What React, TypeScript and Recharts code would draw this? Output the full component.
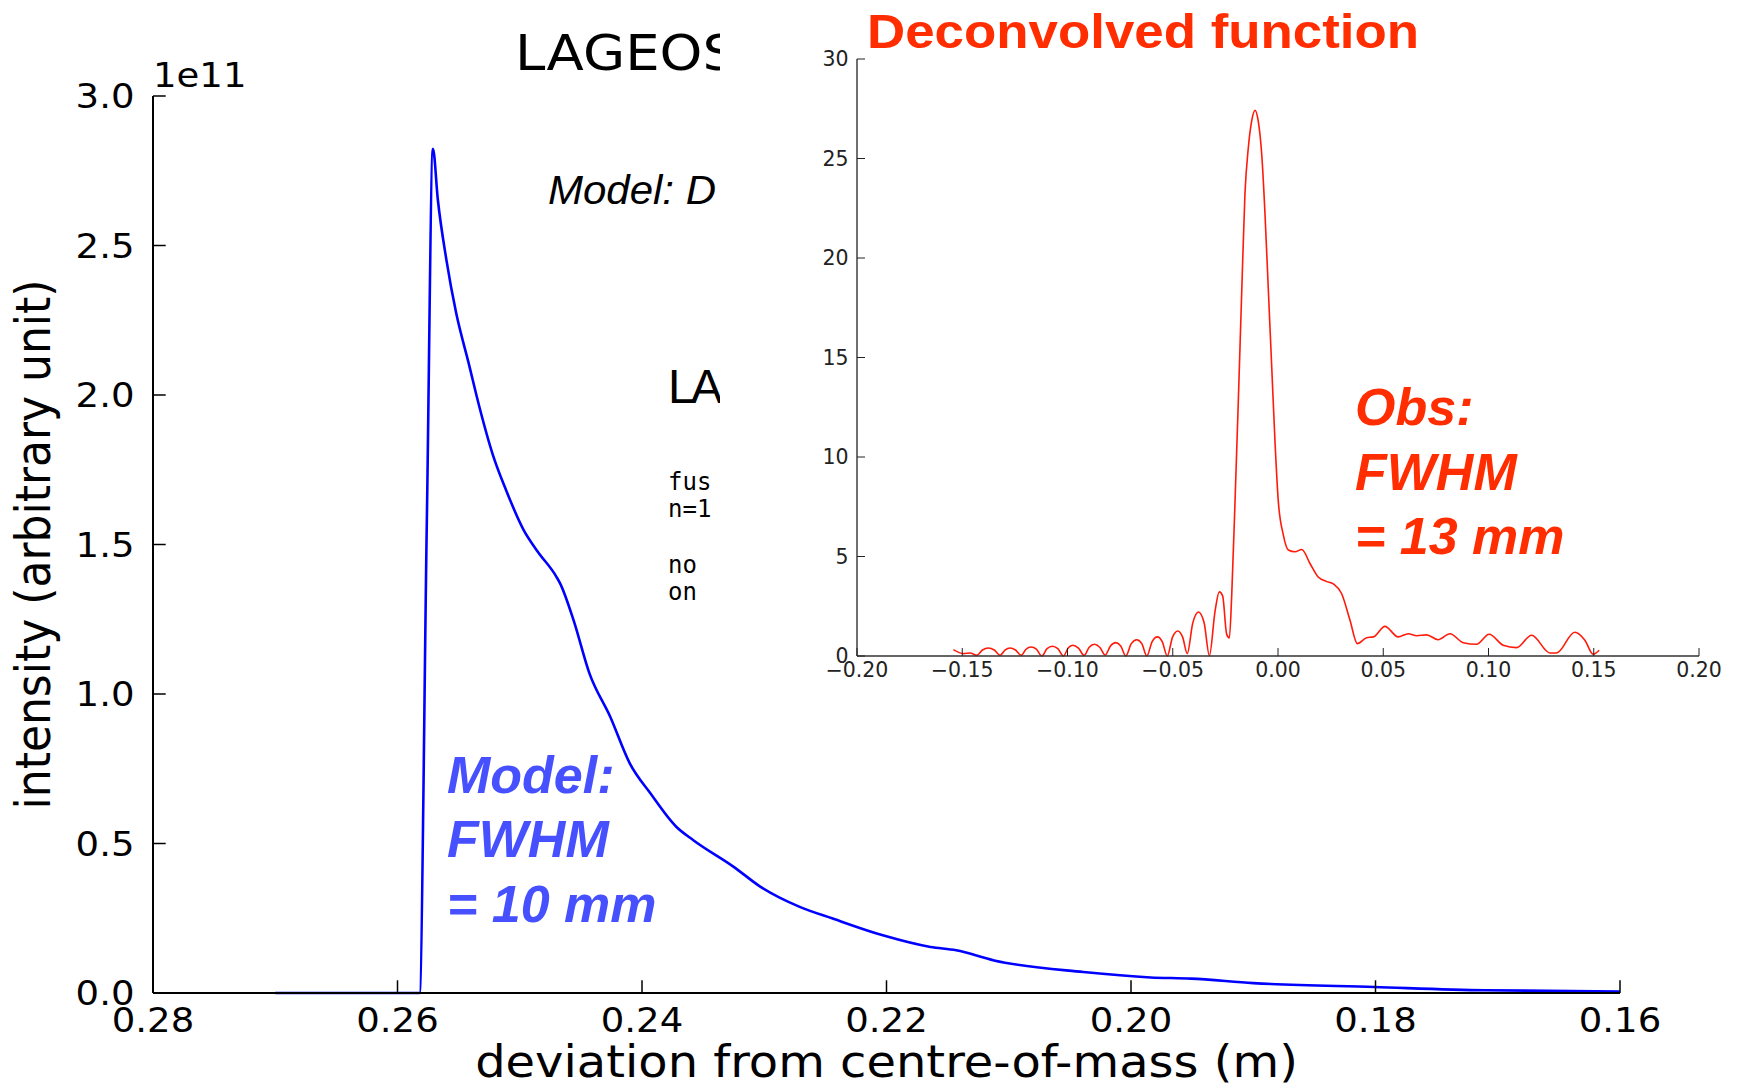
import { LineChart, Line, XAxis, YAxis } from "recharts";

// main panel: model return-pulse (blue)
const MAIN_X = [
  0.27, 0.2582, 0.2576, 0.2571, 0.2567, 0.256, 0.2552, 0.2542, 0.2533, 0.2522, 0.2511,
  0.2497, 0.2486, 0.247, 0.2467, 0.2456, 0.2443, 0.2426, 0.241, 0.2393, 0.2372, 0.2358,
  0.2325, 0.2303, 0.2271, 0.2244, 0.2203, 0.2164, 0.2143, 0.2112, 0.2039, 0.1984, 0.1951,
  0.19, 0.1801, 0.171, 0.16,
];
const MAIN_I = [
  0, 0, 1.58e11, 2.823e11, 2.653e11, 2.452e11, 2.274e11, 2.11e11, 1.96e11, 1.8e11, 1.68e11,
  1.55e11, 1.48e11, 1.392e11, 1.37e11, 1.247e11, 1.069e11, 0.924e11, 0.768e11, 0.667e11,
  0.556e11, 0.511e11, 0.422e11, 0.355e11, 0.288e11, 0.249e11, 0.193e11, 0.154e11, 0.143e11,
  0.109e11, 0.07e11, 0.052e11, 0.048e11, 0.033e11, 0.02e11, 0.009e11, 0.005e11,
];
const MAIN_X_TICKS = [0.28, 0.26, 0.24, 0.22, 0.2, 0.18, 0.16];
const MAIN_Y_TICKS = [0, 0.5e11, 1e11, 1.5e11, 2e11, 2.5e11, 3e11];

// inset: deconvolved function (red)
const INSET_X = [
  -0.1542, -0.1494, -0.1462, -0.1431, -0.1404, -0.1376, -0.1348, -0.132, -0.1297, -0.1273,
  -0.1247, -0.122, -0.1197, -0.1173, -0.1148, -0.1122, -0.1097, -0.1072, -0.1046, -0.1019,
  -0.0997, -0.0975, -0.0948, -0.0921, -0.0897, -0.0872, -0.0847, -0.0821, -0.0796, -0.0771,
  -0.0747, -0.0723, -0.0697, -0.0671, -0.0647, -0.0623, -0.0598, -0.0573, -0.055, -0.0526,
  -0.0501, -0.0476, -0.0453, -0.0431, -0.0405, -0.0378, -0.0351, -0.0326, -0.0299, -0.0279,
  -0.0263, -0.0244, -0.0231, -0.022, -0.0204, -0.0189, -0.0172, -0.0157, -0.0141, -0.0125,
  -0.0109, -0.0094, -0.0077, -0.0062, -0.0046, -0.003, -0.0014, 0.0001, 0.0025, 0.0049,
  0.0081, 0.0113, 0.0152, 0.0191, 0.023, 0.0263, 0.0302, 0.0342, 0.0377, 0.0421, 0.0453,
  0.0508, 0.0571, 0.0619, 0.0659, 0.0706, 0.0761, 0.0817, 0.088, 0.0943, 0.1003, 0.107,
  0.1133, 0.1205, 0.1292, 0.1323, 0.141, 0.1458, 0.1497, 0.1526,
];
const INSET_Y = [
  0.32, 0.12, 0.15, 0.03, 0.3, 0.4, 0.3, 0.03, 0.3, 0.4,
  0.3, 0.03, 0.34, 0.45, 0.34, 0.0, 0.37, 0.49, 0.37, 0.0,
  0.4, 0.54, 0.4, 0.03, 0.44, 0.59, 0.44, 0.05, 0.5, 0.67,
  0.5, 0.0, 0.62, 0.82, 0.62, 0.0, 0.72, 0.96, 0.72, 0.0,
  0.95, 1.26, 0.95, 0.12, 1.65, 2.21, 1.67, 0.02, 2.25, 3.22,
  3.02, 1.1, 0.91, 3.02, 7.83, 12.65, 18.42, 23.23, 25.54, 26.89,
  27.42, 26.89, 25.16, 22.27, 18.42, 14.57, 10.72, 7.83, 6.1, 5.33,
  5.24, 5.35, 4.65, 3.97, 3.75, 3.62, 3.14, 1.8, 0.62, 0.92, 0.96,
  1.49, 0.96, 1.12, 1.02, 1.06, 0.82, 1.12, 0.67, 0.59, 1.09, 0.54,
  0.42, 1.04, 0.15, 0.15, 1.19, 0.79, 0.09, 0.29,
];
const INSET_X_TICKS = [-0.2, -0.15, -0.1, -0.05, 0, 0.05, 0.1, 0.15, 0.2];
const INSET_Y_TICKS = [0, 5, 10, 15, 20, 25, 30];

const mainData = MAIN_X.map((x, i) => ({ x, y: MAIN_I[i] }));
const insetData = INSET_X.map((x, i) => ({ x, y: INSET_Y[i] }));

const MPL = "DejaVu Sans";
const ARIAL = "Liberation Sans, Arial, sans-serif";
const STRETCH = 1.09; // the pasted matplotlib figure is a little wider than tall

const fmtMain = (v: number) => (v / 1e11).toFixed(1);
const fmtX = (v: number) => v.toFixed(2);
const fmtInsetX = (v: number) =>
  v < -1e-9 ? "\u2212" + Math.abs(v).toFixed(2) : Math.abs(v).toFixed(2);
const fmtInt = (v: number) => String(v);

// ticks point inward (matplotlib classic); labels sit outside
function bottomTick(len: number, gap: number, size: number, fmt: (v: number) => string, sx: number, w: number, color: string) {
  return (p: any) => {
    const { x, y, payload } = p;
    return (
      <g>
        <line x1={x} x2={x} y1={y} y2={y - len} stroke={color} strokeWidth={w} />
        <text
          transform={`translate(${x},${y + gap}) scale(${sx},1)`}
          textAnchor="middle"
          fontFamily={MPL}
          fontSize={size}
          fill={color}
        >
          {fmt(payload.value)}
        </text>
      </g>
    );
  };
}

function leftTick(len: number, gap: number, size: number, fmt: (v: number) => string, sx: number, w: number, color: string) {
  return (p: any) => {
    const { x, y, payload } = p;
    return (
      <g>
        <line x1={x} x2={x + len} y1={y} y2={y} stroke={color} strokeWidth={w} />
        <text
          transform={`translate(${x - gap},${y + size * 0.365}) scale(${sx},1)`}
          textAnchor="end"
          fontFamily={MPL}
          fontSize={size}
          fill={color}
        >
          {fmt(payload.value)}
        </text>
      </g>
    );
  };
}

function topTick(len: number, w: number, color: string) {
  return (p: any) => <line x1={p.x} x2={p.x} y1={p.y} y2={p.y + len} stroke={color} strokeWidth={w} />;
}

function rightTick(len: number, w: number, color: string) {
  return (p: any) => <line x1={p.x} x2={p.x - len} y1={p.y} y2={p.y} stroke={color} strokeWidth={w} />;
}

function MainChart() {
  const axis = { stroke: "#000", strokeWidth: 2 };
  return (
    <LineChart width={1737} height={1089} data={mainData} margin={{ top: 96, right: 117, bottom: 0, left: 0 }}>
      <XAxis
        xAxisId="b"
        type="number"
        dataKey="x"
        domain={[0.16, 0.28]}
        reversed
        ticks={MAIN_X_TICKS}
        interval={0}
        height={96}
        tickSize={0}
        tickMargin={0}
        tickLine={false}
        axisLine={axis}
        tick={bottomTick(12.7, 39, 34, fmtX, STRETCH, 1.5, "#000")}
      />
      <XAxis
        xAxisId="t"
        orientation="top"
        type="number"
        dataKey="x"
        domain={[0.16, 0.28]}
        reversed
        ticks={MAIN_X_TICKS}
        interval={0}
        height={0}
        tickSize={0}
        tickMargin={0}
        tickLine={false}
        axisLine={axis}
        tick={topTick(12.7, 1.5, "#000")}
      />
      <YAxis
        yAxisId="l"
        type="number"
        domain={[0, 3e11]}
        ticks={MAIN_Y_TICKS}
        interval={0}
        width={153}
        tickSize={0}
        tickMargin={0}
        tickLine={false}
        axisLine={axis}
        tick={leftTick(12.7, 18.5, 34, fmtMain, STRETCH, 1.5, "#000")}
      />
      <YAxis
        yAxisId="r"
        orientation="right"
        type="number"
        domain={[0, 3e11]}
        ticks={MAIN_Y_TICKS}
        interval={0}
        width={0}
        tickSize={0}
        tickMargin={0}
        tickLine={false}
        axisLine={axis}
        tick={rightTick(12.7, 1.5, "#000")}
      />
      <Line
        xAxisId="b"
        yAxisId="l"
        dataKey="y"
        type="monotone"
        stroke="#0000ff"
        strokeWidth={2.6}
        dot={false}
        activeDot={false}
        isAnimationActive={false}
      />
    </LineChart>
  );
}

function InsetChart() {
  const axis = { stroke: "#333", strokeWidth: 1.4 };
  return (
    <LineChart width={1017} height={731} data={insetData} margin={{ top: 59, right: 38, bottom: 0, left: 0 }}>
      <XAxis
        xAxisId="b"
        type="number"
        dataKey="x"
        domain={[-0.2, 0.2]}
        ticks={INSET_X_TICKS}
        interval={0}
        height={75}
        tickSize={0}
        tickMargin={0}
        tickLine={false}
        axisLine={axis}
        tick={bottomTick(8, 21, 20.5, fmtInsetX, 1, 1, "#222")}
      />
      <XAxis
        xAxisId="t"
        orientation="top"
        type="number"
        dataKey="x"
        domain={[-0.2, 0.2]}
        ticks={INSET_X_TICKS}
        interval={0}
        height={0}
        tickSize={0}
        tickMargin={0}
        tickLine={false}
        axisLine={axis}
        tick={topTick(8, 1, "#333")}
      />
      <YAxis
        yAxisId="l"
        type="number"
        domain={[0, 30]}
        ticks={INSET_Y_TICKS}
        interval={0}
        width={137}
        tickSize={0}
        tickMargin={0}
        tickLine={false}
        axisLine={axis}
        tick={leftTick(8, 8.5, 20.5, fmtInt, 1, 1, "#222")}
      />
      <YAxis
        yAxisId="r"
        orientation="right"
        type="number"
        domain={[0, 30]}
        ticks={INSET_Y_TICKS}
        interval={0}
        width={0}
        tickSize={0}
        tickMargin={0}
        tickLine={false}
        axisLine={axis}
        tick={rightTick(8, 1, "#333")}
      />
      <Line
        xAxisId="b"
        yAxisId="l"
        dataKey="y"
        type="monotone"
        stroke="#ff1a0a"
        strokeWidth={1.6}
        dot={false}
        activeDot={false}
        isAnimationActive={false}
      />
    </LineChart>
  );
}

const MONO_LINES = [
  { text: "fus", y: 490 },
  { text: "n=1", y: 517 },
  { text: "no", y: 573 },
  { text: "on", y: 600 },
];
const BLUE_NOTE = ["Model:", "FWHM", "= 10 mm"];
const RED_NOTE = ["Obs:", "FWHM", "= 13 mm"];

export default function App() {
  const red = "#ff2d00";
  const blue = "#4650ff";
  return (
    <div style={{ position: "absolute", left: 0, top: 0, width: 1737, height: 1089, background: "#fff", overflow: "hidden" }}>
      <MainChart />

      {/* text of the underlying matplotlib figure, partly hidden by the inset */}
      <svg width={1737} height={1089} style={{ position: "absolute", left: 0, top: 0 }}>
        <text transform={`translate(153,87) scale(${STRETCH},1)`} fontFamily={MPL} fontSize={34} fill="#000">
          1e11
        </text>
        <text transform={`translate(515,70) scale(${STRETCH},1)`} fontFamily={MPL} fontSize={50} fill="#000">
          LAGEOS
        </text>
        <text transform="translate(548,204) scale(1.05,1)" fontFamily={ARIAL} fontStyle="italic" fontSize={40} fill="#000">
          Model: D
        </text>
        <text transform="translate(668,403)" fontFamily={ARIAL} fontSize={48} letterSpacing={-4} fill="#000">
          LAG
        </text>
        {MONO_LINES.map((l) => (
          <text key={l.y} x={668} y={l.y} fontFamily="DejaVu Sans Mono" fontSize={24} fill="#000">
            {l.text}
          </text>
        ))}
        <text transform={`translate(886.5,1077) scale(${STRETCH},1)`} textAnchor="middle" fontFamily={MPL} fontSize={44} fill="#000">
          deviation from centre-of-mass (m)
        </text>
        <text
          transform={`translate(50,544.5) scale(${STRETCH},1) rotate(-90)`}
          textAnchor="middle"
          fontFamily={MPL}
          fontSize={44}
          fill="#000"
        >
          intensity (arbitrary unit)
        </text>
        {BLUE_NOTE.map((t, i) => (
          <text key={t} x={447} y={793 + i * 64.3} fontFamily={ARIAL} fontWeight="bold" fontStyle="italic" fontSize={52} fill={blue}>
            {t}
          </text>
        ))}
      </svg>

      <div style={{ position: "absolute", left: 720, top: 0, width: 1017, height: 731, background: "#fff" }}>
        <InsetChart />
        <svg width={1017} height={731} style={{ position: "absolute", left: 0, top: 0 }}>
          <text transform={`translate(147,48) scale(${STRETCH},1)`} fontFamily={ARIAL} fontWeight="bold" fontSize={48.5} fill={red}>
            Deconvolved function
          </text>
          {RED_NOTE.map((t, i) => (
            <text key={t} x={635} y={425.4 + i * 64.3} fontFamily={ARIAL} fontWeight="bold" fontStyle="italic" fontSize={52} fill={red}>
              {t}
            </text>
          ))}
        </svg>
      </div>
    </div>
  );
}
